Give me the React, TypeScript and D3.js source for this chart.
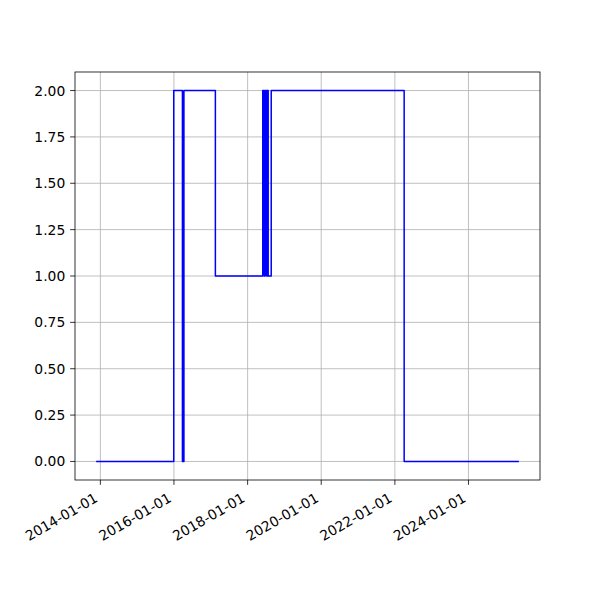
import React from "react";
import * as d3 from "d3";

const changeDates: string[] = [
  "2013-11-20",
  "2015-12-30",
  "2016-03-25",
  "2016-04-09",
  "2017-02-15",
  "2018-05-31",
  "2018-06-14",
  "2018-06-24",
  "2018-07-09",
  "2018-07-14",
  "2018-07-24",
  "2018-08-23",
  "2022-04-03",
  "2025-05-15",
];
const stateValues: number[] = [0, 2, 0, 2, 1, 2, 1, 2, 1, 2, 1, 2, 0, 0];
const yTickValues: number[] = [0, 0.25, 0.5, 0.75, 1, 1.25, 1.5, 1.75, 2];

const W = 600;
const H = 600;
const left = 75;
const right = 540;
const top = 72;
const bottom = 480;
const FS = 13.89;
const TICK = 4.86;
const PAD = 4.86;

export default function App() {
  const parse = d3.utcParse("%Y-%m-%d");
  const data = changeDates.map((d, i) => ({ date: parse(d) as Date, v: stateValues[i] }));

  const [dmin, dmax] = d3.extent(data, (d) => d.date) as [Date, Date];
  const span = dmax.getTime() - dmin.getTime();
  const x = d3
    .scaleUtc()
    .domain([new Date(dmin.getTime() - span * 0.05), new Date(dmax.getTime() + span * 0.05)])
    .range([left, right]);

  const vmin = d3.min(stateValues) as number;
  const vmax = d3.max(stateValues) as number;
  const vspan = vmax - vmin;
  const y = d3
    .scaleLinear()
    .domain([vmin - vspan * 0.05, vmax + vspan * 0.05])
    .range([bottom, top]);

  const line = d3
    .line<{ date: Date; v: number }>()
    .x((d) => x(d.date))
    .y((d) => y(d.v))
    .curve(d3.curveStepAfter);

  const xTicks = x.ticks(d3.utcYear.every(2) as d3.CountableTimeInterval);
  const fmtX = d3.utcFormat("%Y-%m-%d");
  const fmtY = d3.format(".2f");

  const textH = FS * 1.165;
  const desc = FS * 0.236;

  return (
    <svg width={W} height={H} style={{ display: "block", position: "absolute", left: 0, top: 0 }} fontFamily="DejaVu Sans" fontSize={FS}>
      <rect x={0} y={0} width={W} height={H} fill="#ffffff" />
      <g>
        {xTicks.map((t, i) => (
          <line key={"gx" + i} x1={x(t)} x2={x(t)} y1={top} y2={bottom} stroke="#b0b0b0" strokeWidth={0.8} />
        ))}
        {yTickValues.map((t, i) => (
          <line key={"gy" + i} x1={left} x2={right} y1={y(t)} y2={y(t)} stroke="#b0b0b0" strokeWidth={0.8} />
        ))}
      </g>
      <path d={line(data) || ""} fill="none" stroke="#0000ff" strokeWidth={1.5} strokeLinejoin="round" strokeLinecap="butt" />
      <rect x={left} y={top} width={right - left} height={bottom - top} fill="none" stroke="#000000" strokeWidth={0.8} />
      {xTicks.map((t, i) => {
        const tx = x(t);
        const by = bottom + TICK + PAD + 0.866 * textH;
        const bx = tx - 0.5 * desc;
        const byl = by - 0.866 * desc;
        return (
          <g key={"xt" + i}>
            <line x1={tx} x2={tx} y1={bottom} y2={bottom + TICK} stroke="#000" strokeWidth={0.8} />
            <text x={bx} y={byl} textAnchor="end" transform={`rotate(-30, ${bx}, ${byl})`} fill="#000">
              {fmtX(t)}
            </text>
          </g>
        );
      })}
      {yTickValues.map((t, i) => (
        <g key={"yt" + i}>
          <line x1={left - TICK} x2={left} y1={y(t)} y2={y(t)} stroke="#000" strokeWidth={0.8} />
          <text x={left - TICK - PAD} y={y(t)} dy="0.36em" textAnchor="end" fill="#000">
            {fmtY(t)}
          </text>
        </g>
      ))}
    </svg>
  );
}
